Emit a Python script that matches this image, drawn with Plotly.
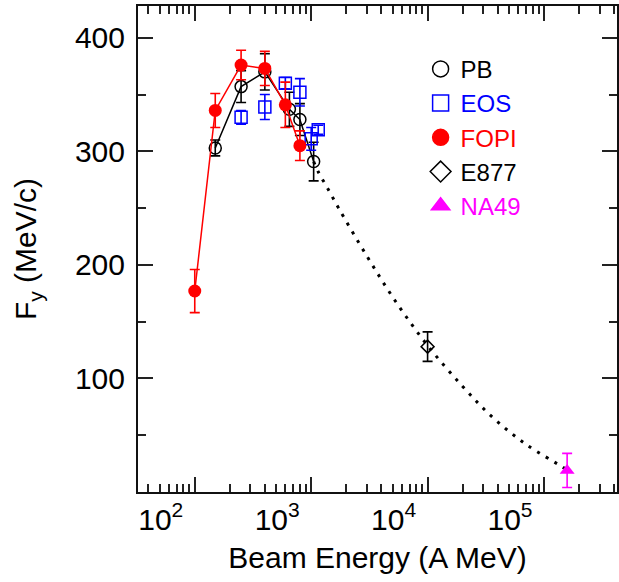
import plotly.graph_objects as go

# Directed flow F_y versus beam energy (A MeV)

# Plastic Ball
pb_energy = [150, 250, 400, 650, 800, 1050]
pb_fy = [303, 357, 370, 337, 328, 291]
pb_err = [7, 14, 16, 15, 14, 17]

# EOS
eos_energy = [250, 400, 600, 800, 1000, 1150]
eos_fy = [330, 339, 360, 352, 311, 319]
eos_err = [6, 11, 5, 12, 10, 4]

# FOPI
fopi_energy = [100, 150, 250, 400, 600, 800]
fopi_fy = [177, 336, 376, 373, 341, 305]
fopi_err = [19, 15, 13, 15, 20, 13]

# E877 (AGS)
e877_energy = [10000]
e877_fy = [128]
e877_err = [13]

# NA49 (SPS)
na49_energy = [158000]
na49_fy = [19]
na49_err = [15]

# dotted trend curve through the high-energy points
curve_energy = [1050, 1150, 1410, 1720, 3000, 5300, 10000, 20000, 36000, 70000, 144000, 158000]
curve_fy = [291, 282, 266, 250, 208, 168, 129, 93, 66, 42, 22, 19]

x_tickvals = [100, 1000, 10000, 100000]
x_ticktext = ["10<sup>2</sup>", "10<sup>3</sup>", "10<sup>4</sup>", "10<sup>5</sup>"]
x_minor = [k * 10 ** n for n in range(1, 6) for k in range(2, 10)]
y_tickvals = [100, 200, 300, 400]
y_minor = [50, 150, 250, 350]

BLACK = "#000000"
BLUE = "#0000ff"
RED = "#ff0000"
MAGENTA = "#ff00ff"
FONT = "Liberation Sans, Arial, Helvetica, sans-serif"

fig = go.Figure()

# trend curve
fig.add_trace(go.Scatter(
    x=curve_energy, y=curve_fy, mode="lines",
    line=dict(color=BLACK, width=3, dash="3px,7px", shape="spline", smoothing=1.0),
    showlegend=False, hoverinfo="skip",
))


def err(vals, color):
    return dict(type="data", array=vals, visible=True, color=color,
                thickness=1.6, width=5)


fig.add_trace(go.Scatter(
    x=pb_energy, y=pb_fy, mode="lines+markers",
    line=dict(color=BLACK, width=1.5),
    marker=dict(symbol="circle-open", size=12, color=BLACK, line=dict(width=1.5)),
    error_y=err(pb_err, BLACK), showlegend=False,
))
fig.add_trace(go.Scatter(
    x=eos_energy, y=eos_fy, mode="markers",
    marker=dict(symbol="square-open", size=12, color=BLUE, line=dict(width=1.5)),
    error_y=err(eos_err, BLUE), showlegend=False,
))
fig.add_trace(go.Scatter(
    x=fopi_energy, y=fopi_fy, mode="lines+markers",
    line=dict(color=RED, width=1.5),
    marker=dict(symbol="circle", size=13, color=RED),
    error_y=err(fopi_err, RED), showlegend=False,
))
fig.add_trace(go.Scatter(
    x=e877_energy, y=e877_fy, mode="markers",
    marker=dict(symbol="diamond-open", size=10, color=BLACK, line=dict(width=1.5)),
    error_y=err(e877_err, BLACK), showlegend=False,
))
fig.add_trace(go.Scatter(
    x=na49_energy, y=na49_fy, mode="markers",
    marker=dict(symbol="triangle-up", size=13, color=MAGENTA),
    error_y=err(na49_err, MAGENTA), showlegend=False,
))

# legend entries
legend_items = [
    ("PB", BLACK, "circle-open"),
    ("EOS", BLUE, "square-open"),
    ("FOPI", RED, "circle"),
    ("E877", BLACK, "diamond-open"),
    ("NA49", MAGENTA, "triangle-up"),
]
for name, color, symbol in legend_items:
    fig.add_trace(go.Scatter(
        x=[None], y=[None], mode="markers",
        name=f"<span style='color:{color}'>{name}</span>",
        marker=dict(symbol=symbol, size=16, color=color, line=dict(width=1.5, color=color)),
        showlegend=True,
    ))

axis_common = dict(
    showgrid=False, zeroline=False, showline=True, linecolor="#111111", linewidth=2,
    ticks="inside", tickcolor="#222222", tickwidth=1.5, ticklen=15, mirror="ticks",
    tickfont=dict(family=FONT, size=30, color=BLACK),
)

fig.update_xaxes(
    type="log", range=[1.5124, 5.627],
    tickmode="array", tickvals=x_tickvals, ticktext=x_ticktext,
    ticklabelshift=-34,
    minor=dict(tickmode="array", tickvals=x_minor, ticks="inside", ticklen=8,
               tickcolor="#222222", tickwidth=1.5),
    title=dict(text="Beam Energy (A MeV)", font=dict(family=FONT, size=30, color=BLACK),
               standoff=12),
    **axis_common,
)
fig.update_yaxes(
    range=[0, 428],
    tickmode="array", tickvals=y_tickvals,
    ticklabelstandoff=5,
    minor=dict(tickmode="array", tickvals=y_minor, ticks="inside", ticklen=8,
               tickcolor="#222222", tickwidth=1.5),
    title=dict(text="F<sub>y</sub> (MeV/c)", font=dict(family=FONT, size=30, color=BLACK),
               standoff=29),
    **axis_common,
)

fig.update_layout(
    width=619, height=582,
    margin=dict(l=138, r=0, t=6, b=90),
    paper_bgcolor="white", plot_bgcolor="white",
    font=dict(family=FONT, color=BLACK),
    legend=dict(
        x=0.590, y=0.916, xanchor="left", yanchor="top",
        font=dict(family=FONT, size=24, color=BLACK),
        bgcolor="rgba(0,0,0,0)", borderwidth=0, tracegroupgap=0,
    ),
)

fig.write_html("out.html")
